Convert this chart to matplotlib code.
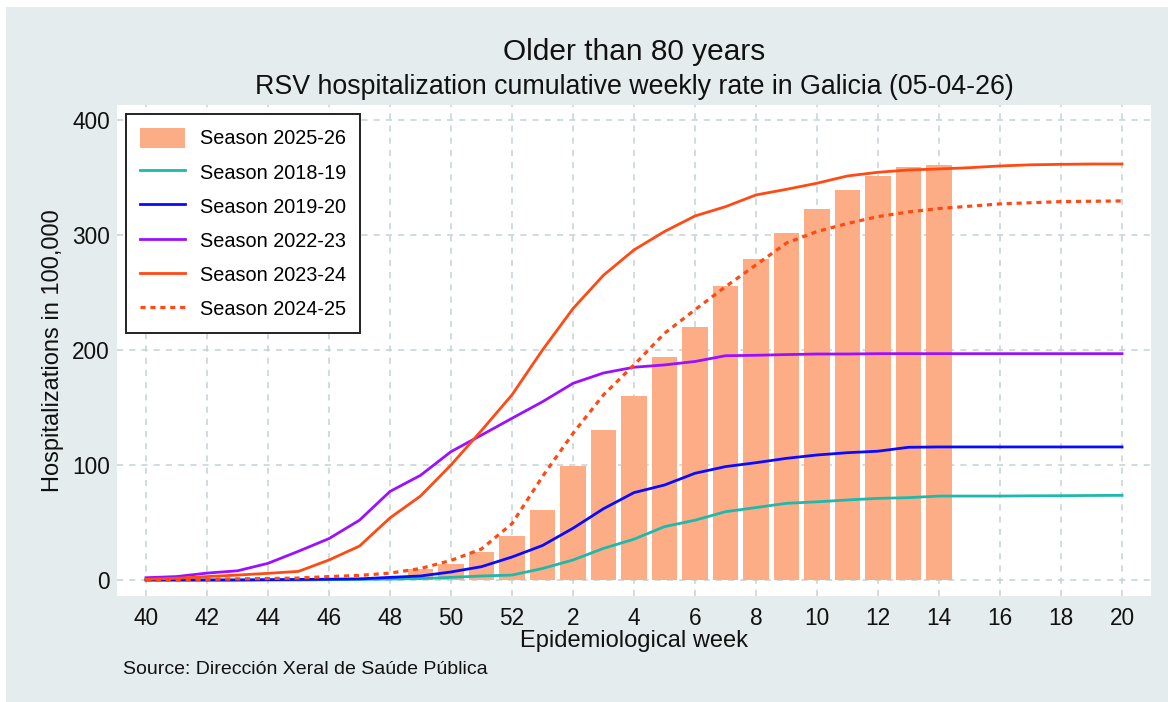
import matplotlib.pyplot as plt
from matplotlib.patches import Rectangle

# epidemiological weeks shown on the x axis (season runs week 40 -> week 20)
weeks = list(range(40, 53)) + list(range(1, 21))

# cumulative rates per 100,000, older than 80 years
season_2025_26 = [0, 0, 0, 0.5, 0.5, 1, 1, 1.5, 2.5, 9.5, 14, 24.6, 38.6, 61,
                  99, 130, 160, 193.5, 220, 255.5, 279.5, 302, 323, 339.5,
                  351.5, 359.5, 360.5]
season_2018_19 = [0, 0, 0, 0, 0, 0, 0.3, 0.5, 0.8, 1.2, 2.3, 3.5, 4.3, 10,
                  17.4, 27.5, 35.5, 46.4, 52, 59.4, 63, 66.7, 68, 69.6, 71,
                  71.6, 73, 73, 73, 73.2, 73.3, 73.5, 73.6]
season_2019_20 = [0, 0, 0, 0, 0.3, 0.5, 0.7, 1, 2.3, 3.5, 7, 11.6, 20, 30,
                  45, 62, 76, 82.6, 92.8, 98.6, 102, 105.8, 108.7, 110.7, 112,
                  115.4, 115.7, 115.7, 115.7, 115.7, 115.7, 115.7, 115.7]
season_2022_23 = [2, 3, 6, 8, 14.5, 25, 36, 52, 77, 91, 111.6, 126, 140.6,
                  155, 171, 180, 185, 187, 190, 195, 195.4, 196, 196.5, 196.5,
                  196.8, 196.8, 196.8, 196.8, 196.8, 196.8, 196.8, 196.8, 196.8]
season_2023_24 = [0.6, 1.5, 3, 4.3, 5.8, 7.5, 17.4, 29.5, 54, 73, 100, 130,
                  161, 200, 236, 265, 287, 303, 316.5, 324.6, 334.8, 339.7,
                  345, 351.3, 354.5, 356.5, 357.4, 358.5, 360, 361, 361.4,
                  361.7, 361.7]
season_2024_25 = [0, 0.3, 0.6, 1, 1.3, 1.7, 3, 4, 6, 10, 17, 27, 49, 90,
                  127.5, 161, 187, 214.5, 235, 255, 274, 293, 303, 310, 316,
                  320, 323, 325, 327, 328, 329, 329.3, 329.6]

plt.rcParams['font.family'] = ['Liberation Sans', 'DejaVu Sans']

fig = plt.figure(figsize=(11.68, 7.02), dpi=100, facecolor='white')
fig.patches.append(Rectangle((6 / 1168, 0), 1, 695 / 702, transform=fig.transFigure,
                             facecolor='#e4eced', edgecolor='none', zorder=-10))

ax = fig.add_axes([117 / 1168, 1 - 596 / 702, 1034 / 1168, 491 / 702])
ax.set_facecolor('white')
for s in ax.spines.values():
    s.set_visible(False)

pos = list(range(len(weeks)))

bars = ax.bar(pos[:len(season_2025_26)], season_2025_26, width=0.84,
              color='#fdad85', zorder=2, label='Season 2025-26')
l1, = ax.plot(pos, season_2018_19, color='#1fb8ac', lw=2.0, zorder=3, label='Season 2018-19')
l2, = ax.plot(pos, season_2019_20, color='#0a0aff', lw=2.0, zorder=3, label='Season 2019-20')
l3, = ax.plot(pos, season_2022_23, color='#9b10ff', lw=2.0, zorder=3, label='Season 2022-23')
l4, = ax.plot(pos, season_2023_24, color='#ff4a14', lw=2.0, zorder=3, label='Season 2023-24')
l5, = ax.plot(pos, season_2024_25, color='#ff4a14', lw=2.3, ls=(0, (1.6, 1.5)),
              zorder=3, label='Season 2024-25')

ax.set_xlim(-0.95, 32.95)
ax.set_ylim(-13.9, 413)

tick_pos = [p for p, w in zip(pos, weeks) if w % 2 == 0]
ax.set_xticks(tick_pos)
ax.set_xticklabels([str(weeks[p]) for p in tick_pos])
ax.set_yticks([0, 100, 200, 300, 400])
ax.tick_params(axis='both', length=0, labelsize=16.3, colors='#111111')
ax.tick_params(axis='x', pad=8)
ax.tick_params(axis='y', pad=5)

ax.set_axisbelow(True)
ax.grid(True, color='#c3d2d6', lw=1.1, ls=(0, (4, 4)))

ax.set_xlabel('Epidemiological week', fontsize=17, labelpad=0, color='#111111')
ax.set_ylabel('Hospitalizations in 100,000', fontsize=17, labelpad=6, color='#111111')

fig.text(634 / 1168, 1 - 52 / 702, 'Older than 80 years', ha='center', va='center',
         fontsize=21.5, color='#111111')
fig.text(634 / 1168, 1 - 87 / 702,
         'RSV hospitalization cumulative weekly rate in Galicia (05-04-26)',
         ha='center', va='center', fontsize=19.3, color='#111111')
fig.text(123 / 1168, 1 - 670 / 702, 'Source: Dirección Xeral de Saúde Pública',
         ha='left', va='center', fontsize=14, color='#111111')

leg = ax.legend(handles=[bars, l1, l2, l3, l4, l5], loc='upper left',
                bbox_to_anchor=(9 / 1034, 1 - 9 / 491), fontsize=14.3,
                frameon=True, fancybox=False, framealpha=1, edgecolor='#222222',
                handlelength=2.3, handleheight=1.2, handletextpad=0.75,
                labelspacing=0.67, borderpad=0.68, borderaxespad=0)
leg.get_frame().set_linewidth(1.4)

fig.savefig('out.png', dpi=100)
